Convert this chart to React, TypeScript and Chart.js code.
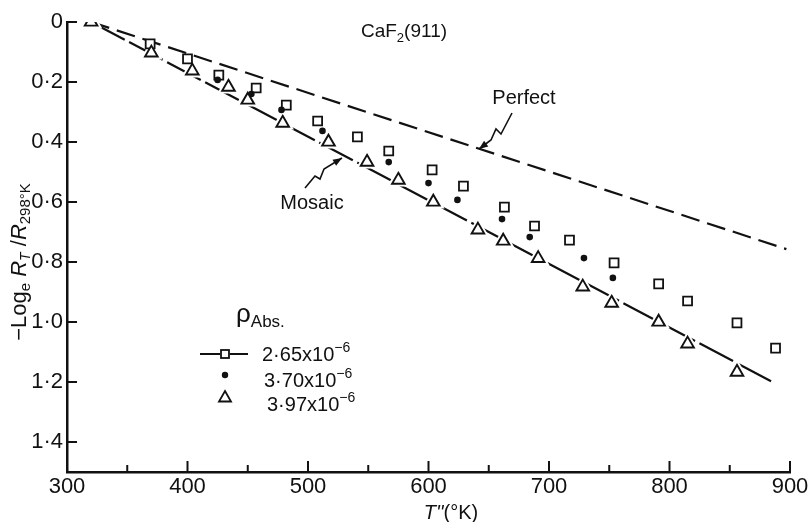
import React, { useEffect, useRef } from 'react';
import { Chart, registerables } from 'chart.js';
Chart.register(...registerables);

// ---- axis ticks ----
const xTicks = [300, 400, 500, 600, 700, 800, 900];
const xMinorTicks = [350, 450, 550, 650, 750, 850];
const yTicks = [0, 0.2, 0.4, 0.6, 0.8, 1.0, 1.2, 1.4];
const yTickLabels = ['0', '0·2', '0·4', '0·6', '0·8', '1·0', '1·2', '1·4'];

// ---- series: rho_abs = 2.65e-6 (open squares) ----
const squareT = [369, 400, 426, 457, 482, 508, 541, 567, 603, 629, 663, 688, 717, 754, 791, 815, 856, 888];
const squareV = [0.073, 0.123, 0.177, 0.22, 0.277, 0.33, 0.383, 0.43, 0.493, 0.547, 0.617, 0.68, 0.727, 0.803, 0.873, 0.93, 1.003, 1.087];

// ---- series: rho_abs = 3.70e-6 (filled dots) ----
const dotT = [425, 453, 478, 512, 567, 600, 624, 661, 684, 729, 753];
const dotV = [0.193, 0.24, 0.293, 0.363, 0.467, 0.537, 0.593, 0.657, 0.717, 0.787, 0.853];

// ---- series: rho_abs = 3.97e-6 (open triangles) ----
const triT = [320, 370, 404, 434, 450, 479, 517, 549, 575, 604, 641, 662, 691, 728, 752, 791, 815, 856];
const triV = [0, 0.103, 0.163, 0.217, 0.26, 0.337, 0.4, 0.467, 0.527, 0.6, 0.693, 0.73, 0.788, 0.883, 0.937, 1.0, 1.073, 1.167];

// ---- theory lines ----
const perfectT = [320, 897];
const perfectV = [0, 0.757];
const mosaicT = [320, 887];
const mosaicV = [0, 1.203];

// ---- legend ----
const legendLabels = ['2·65x10', '3·70x10', '3·97x10'];
const legendExponent = '−6';

const FONT = '"Liberation Sans", Arial, Helvetica, sans-serif';
const INK = '#111';

const pts = (xs: number[], ys: number[]) => xs.map((x, i) => ({ x, y: ys[i] }));

type Piece = { t: string; size: number; italic?: boolean; dy?: number };

function richWidth(ctx: CanvasRenderingContext2D, pieces: Piece[]) {
  let w = 0;
  for (const p of pieces) {
    ctx.font = `${p.italic ? 'italic ' : ''}${p.size}px ${FONT}`;
    w += ctx.measureText(p.t).width;
  }
  return w;
}

function drawRich(ctx: CanvasRenderingContext2D, pieces: Piece[], x: number, y: number, align: 'left' | 'center') {
  const w = richWidth(ctx, pieces);
  let cx = align === 'center' ? x - w / 2 : x;
  ctx.textAlign = 'left';
  ctx.textBaseline = 'alphabetic';
  for (const p of pieces) {
    ctx.font = `${p.italic ? 'italic ' : ''}${p.size}px ${FONT}`;
    ctx.fillText(p.t, cx, y + (p.dy || 0));
    cx += ctx.measureText(p.t).width;
  }
}

function drawArrow(ctx: CanvasRenderingContext2D, path: number[][]) {
  ctx.beginPath();
  ctx.moveTo(path[0][0], path[0][1]);
  for (let i = 1; i < path.length; i++) ctx.lineTo(path[i][0], path[i][1]);
  ctx.stroke();
  const [x1, y1] = path[path.length - 2];
  const [x2, y2] = path[path.length - 1];
  const a = Math.atan2(y2 - y1, x2 - x1);
  const L = 9, W = 3.5;
  ctx.beginPath();
  ctx.moveTo(x2, y2);
  ctx.lineTo(x2 - L * Math.cos(a) + W * Math.sin(a), y2 - L * Math.sin(a) - W * Math.cos(a));
  ctx.lineTo(x2 - L * Math.cos(a) - W * Math.sin(a), y2 - L * Math.sin(a) + W * Math.cos(a));
  ctx.closePath();
  ctx.fill();
}

const decorPlugin = {
  id: 'decor',
  afterDraw(chart: any) {
    const ctx: CanvasRenderingContext2D = chart.ctx;
    const xs = chart.scales.x;
    const ys = chart.scales.y;
    const area = chart.chartArea;
    ctx.save();
    ctx.strokeStyle = INK;
    ctx.fillStyle = INK;
    ctx.lineCap = 'butt';

    // inward tick marks
    ctx.lineWidth = 2;
    for (const v of xTicks) {
      const px = xs.getPixelForValue(v);
      ctx.beginPath(); ctx.moveTo(px, area.bottom); ctx.lineTo(px, area.bottom - 11); ctx.stroke();
    }
    for (const v of xMinorTicks) {
      const px = xs.getPixelForValue(v);
      ctx.beginPath(); ctx.moveTo(px, area.bottom); ctx.lineTo(px, area.bottom - 7); ctx.stroke();
    }
    for (const v of yTicks) {
      const py = ys.getPixelForValue(v);
      ctx.beginPath(); ctx.moveTo(area.left, py); ctx.lineTo(area.left + 10, py); ctx.stroke();
    }

    // title
    drawRich(ctx, [
      { t: 'CaF', size: 19 },
      { t: '2', size: 13, dy: 5 },
      { t: '(911)', size: 19 },
    ], 404, 37, 'center');

    // annotations
    drawRich(ctx, [{ t: 'Perfect', size: 20 }], 524, 104, 'center');
    drawRich(ctx, [{ t: 'Mosaic', size: 20 }], 312, 209, 'center');
    ctx.lineWidth = 1.6;
    drawArrow(ctx, [[512, 113], [501, 134], [496, 129], [491, 140], [479, 149]]);
    drawArrow(ctx, [[305, 188], [315, 176], [320, 179], [324, 169], [342, 158]]);

    // legend
    drawRich(ctx, [
      { t: 'ρ', size: 26 },
      { t: 'Abs.', size: 17, dy: 5 },
    ], 236, 322, 'left');
    ctx.lineWidth = 2;
    ctx.beginPath(); ctx.moveTo(200, 354); ctx.lineTo(220, 354); ctx.moveTo(230, 354); ctx.lineTo(248, 354); ctx.stroke();
    ctx.lineWidth = 1.8;
    ctx.strokeRect(221, 350, 8, 8);
    ctx.beginPath(); ctx.arc(225, 375, 3.2, 0, Math.PI * 2); ctx.fill();
    ctx.beginPath(); ctx.moveTo(225, 391); ctx.lineTo(231, 401.5); ctx.lineTo(219, 401.5); ctx.closePath(); ctx.stroke();
    const rows = [361, 387, 411];
    const starts = [262, 264, 267];
    legendLabels.forEach((lab, i) => {
      drawRich(ctx, [
        { t: lab, size: 20 },
        { t: legendExponent, size: 14, dy: -9 },
      ], starts[i], rows[i], 'left');
    });

    // x-axis title
    drawRich(ctx, [
      { t: 'T\'\'', size: 20, italic: true },
      { t: '(°K)', size: 20 },
    ], 451, 519, 'center');

    // y-axis title (rotated)
    ctx.save();
    ctx.translate(26, 262);
    ctx.rotate(-Math.PI / 2);
    drawRich(ctx, [
      { t: '−Log', size: 22 },
      { t: 'e', size: 15, dy: 4 },
      { t: ' ', size: 22 },
      { t: 'R', size: 22, italic: true },
      { t: 'T', size: 14, italic: true, dy: 4 },
      { t: ' /', size: 22 },
      { t: 'R', size: 22, italic: true },
      { t: '298°K', size: 15, dy: 4 },
    ], 0, 0, 'center');
    ctx.restore();

    ctx.restore();
  },
};

export default function App() {
  const ref = useRef<HTMLCanvasElement>(null);
  useEffect(() => {
    if (!ref.current) return;
    const chart = new Chart(ref.current, {
      type: 'scatter',
      data: {
        datasets: [
          {
            label: 'Perfect',
            data: pts(perfectT, perfectV),
            showLine: true,
            borderColor: INK,
            borderWidth: 2.2,
            borderDash: [19, 8],
            pointRadius: 0,
            order: 10,
          },
          {
            label: 'Mosaic',
            data: pts(mosaicT, mosaicV),
            showLine: true,
            borderColor: INK,
            borderWidth: 2.2,
            borderDash: [38, 5],
            pointRadius: 0,
            order: 9,
          },
          {
            label: 'halo',
            data: pts(triT, triV),
            pointStyle: 'triangle',
            pointRadius: 10,
            pointBorderWidth: 3,
            pointBorderColor: '#fff',
            pointBackgroundColor: '#fff',
            order: 8,
          },
          {
            label: '2.65e-6',
            data: pts(squareT, squareV),
            pointStyle: 'rect',
            pointRadius: 6.3,
            pointBorderWidth: 1.8,
            pointBorderColor: INK,
            pointBackgroundColor: '#fff',
            order: 3,
          },
          {
            label: '3.70e-6',
            data: pts(dotT, dotV),
            pointStyle: 'circle',
            pointRadius: 3.3,
            pointBorderWidth: 0,
            pointBackgroundColor: INK,
            order: 2,
          },
          {
            label: '3.97e-6',
            data: pts(triT, triV),
            pointStyle: 'triangle',
            pointRadius: 7.3,
            pointBorderWidth: 1.9,
            pointBorderColor: INK,
            pointBackgroundColor: '#fff',
            order: 1,
          },
        ],
      },
      options: {
        responsive: false,
        animation: false,
        devicePixelRatio: 1,
        layout: { padding: { top: 22, right: 22, left: 0, bottom: 0 } },
        plugins: { legend: { display: false }, tooltip: { enabled: false } },
        elements: { line: { tension: 0 } },
        scales: {
          x: {
            type: 'linear',
            min: 300,
            max: 900,
            afterBuildTicks: (s: any) => { s.ticks = xTicks.map((v) => ({ value: v })); },
            afterFit: (s: any) => { s.height = 50; },
            ticks: {
              font: { size: 22, family: FONT },
              color: INK,
              padding: 2,
              maxRotation: 0,
              autoSkip: false,
              callback: (v: any) => String(v),
            },
            grid: { display: false, drawTicks: false },
            border: { display: true, color: INK, width: 2.5 },
          },
          y: {
            type: 'linear',
            reverse: true,
            min: 0,
            max: 1.5,
            afterBuildTicks: (s: any) => { s.ticks = yTicks.map((v) => ({ value: v })); },
            afterFit: (s: any) => { s.width = 67; },
            ticks: {
              font: { size: 22, family: FONT },
              color: INK,
              padding: 4,
              autoSkip: false,
              callback: (v: any) => yTickLabels[yTicks.indexOf(v)] ?? '',
            },
            grid: { display: false, drawTicks: false },
            border: { display: true, color: INK, width: 2.5 },
          },
        },
      },
      plugins: [decorPlugin],
    } as any);
    return () => chart.destroy();
  }, []);
  return (
    <div style={{ position: 'absolute', left: 0, top: 0, width: 812, height: 522, background: '#fff' }}>
      <canvas ref={ref} width={812} height={522} style={{ width: 812, height: 522, display: 'block' }} />
    </div>
  );
}
